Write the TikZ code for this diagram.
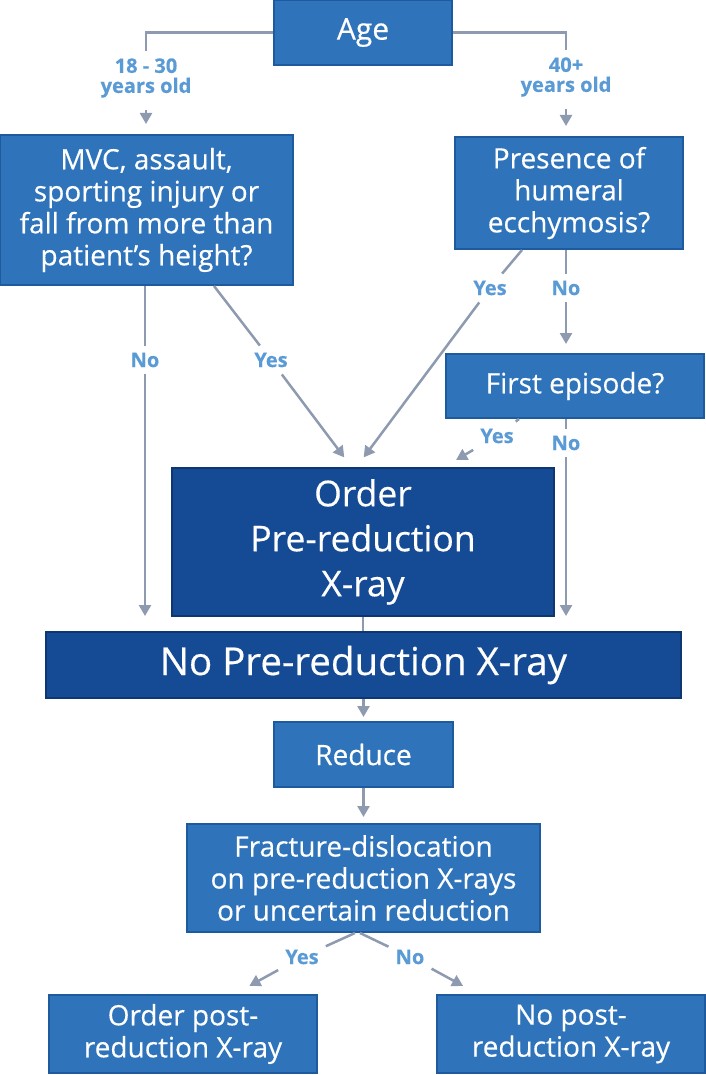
\documentclass[tikz,border=0pt]{standalone}
\usepackage{fontspec}
\setmainfont{Open Sans}[FakeBold=0.4]
\usetikzlibrary{arrows.meta}
\definecolor{boxBlue}{HTML}{2F74BA}
\definecolor{boxEdge}{HTML}{1E5A9E}
\definecolor{darkBlue}{HTML}{154A94}
\definecolor{darkEdge}{HTML}{0E3670}
\definecolor{lineGray}{HTML}{8D9AAF}
\definecolor{labelBlue}{HTML}{5B9BD5}

\begin{document}
\begin{tikzpicture}[
    x=1pt, y=-1pt,
    >={Triangle[length=11pt,width=12pt]},
    stepbox/.style={draw=boxEdge, fill=boxBlue, line width=2pt, text=white, align=center, inner sep=0pt, font=\fontsize{28}{32}\selectfont},
    bigbox/.style={stepbox, draw=darkEdge, fill=darkBlue},
    link/.style={draw=lineGray, line width=2.5pt},
    arrow/.style={link, ->, shorten >=10pt},
    answer/.style={text=labelBlue, font=\fontsize{20}{20}\selectfont\bfseries, align=center, inner sep=7pt}
  ]
    \useasboundingbox (0,0) rectangle (705,1075);

    \node[stepbox, minimum width=178pt, minimum height=65pt, font=\fontsize{30}{32}\selectfont] (age) at (363,32.5) {Age};
    \node[stepbox, minimum width=293pt, minimum height=150pt] (mvc) at (146.5,210) {MVC, assault,\\sporting injury or\\fall from more than\\patient's height?};
    \node[stepbox, minimum width=228pt, minimum height=112pt] (hum) at (569,193) {Presence of\\humeral\\ecchymosis?};
    \node[stepbox, minimum width=258pt, minimum height=64pt] (first) at (575,386) {First episode?};
    \node[bigbox, minimum width=382pt, minimum height=148pt, font=\fontsize{35.5}{45}\selectfont] (order) at (363,542) {Order\\Pre-reduction\\X-ray};
    \node[bigbox, minimum width=635pt, minimum height=66pt, font=\fontsize{38.5}{40}\selectfont] (nopre) at (363.5,665) {No Pre-reduction X-ray};
    \node[stepbox, minimum width=179pt, minimum height=65pt] (reduce) at (363.5,754.5) {Reduce};
    \node[stepbox, minimum width=353pt, minimum height=108pt] (frac) at (363.5,878) {Fracture-dislocation\\on pre-reduction X-rays\\or uncertain reduction};
    \node[stepbox, minimum width=268pt, minimum height=78pt] (post) at (183,1034) {Order post-\\reduction X-ray};
    \node[stepbox, minimum width=268pt, minimum height=78pt] (nopost) at (571,1034) {No post-\\reduction X-ray};

    \node[answer] (young) at (146,78) {18 - 30\\years old};
    \node[answer] (old) at (566,77) {40+\\years old};
    \node[answer] (mvcNo) at (145,360) {No};
    \node[answer] (mvcYes) at (271,360) {Yes};
    \node[answer] (humYes) at (490,288) {Yes};
    \node[answer] (humNo) at (566,288) {No};
    \node[answer] (firstYes) at (497,436) {Yes};
    \node[answer] (firstNo) at (566,443) {No};
    \node[answer] (fracYes) at (302,957) {Yes};
    \node[answer] (fracNo) at (410,957) {No};

    \draw[link] (age.west) -| (young.north);
    \draw[arrow, shorten <=5pt] (young.south) -- (young |- mvc.north);
    \draw[link] (age.east) -| (old.north);
    \draw[arrow, shorten <=5pt] (old.south) -- (old |- hum.north);

    \draw[arrow, shorten >=15pt] (mvc.south -| mvcNo) -- (mvcNo) -- (mvcNo |- nopre.north);
    \draw[arrow, shorten >=12pt] ([xshift=67.5pt]mvc.south) -- (mvcYes) -- ([xshift=-11.5pt]order.north);
    \draw[arrow, shorten >=12pt] ([xshift=-47pt]hum.south) -- (humYes) -- ([xshift=-6.5pt]order.north);
    \draw[arrow, shorten >=9pt] (hum.south -| humNo) -- (humNo) -- (humNo |- first.north);
    \draw[arrow, shorten >=14pt] ([xshift=-56pt]first.south) -- (firstYes) -- ([xshift=81pt]order.north);
    \draw[arrow, shorten >=15pt] (first.south -| firstNo) -- (firstNo) -- (firstNo |- nopre.north);

    \draw[link] (order.south) -- (order.south |- nopre.north);
    \draw[arrow, shorten >=4pt] (nopre.south -| reduce) -- (reduce.north);
    \draw[arrow, shorten >=6pt] (reduce.south) -- (frac.north);

    \draw[arrow, shorten >=17pt] ([xshift=-8.5pt]frac.south) -- (fracYes) -- ([xshift=51.5pt]post.north);
    \draw[arrow, shorten >=17pt] ([xshift=-3.5pt]frac.south) -- (fracNo) -- ([xshift=-93pt]nopost.north);
  \end{tikzpicture}
\end{document}
